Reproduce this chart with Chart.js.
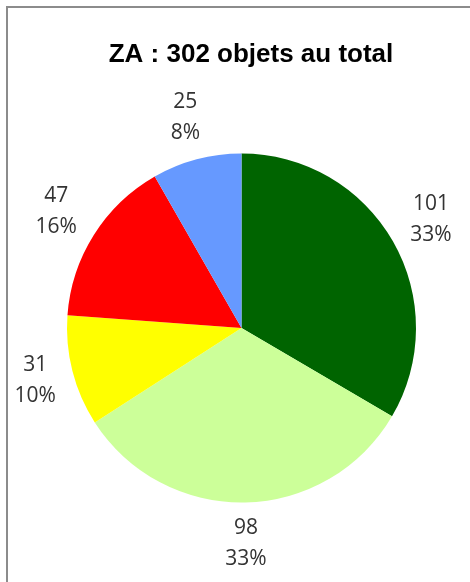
<!DOCTYPE html>
<html lang="fr">
<head>
    <meta charset="UTF-8">
    <title>ZA : 302 objets au total</title>
    <script src="https://cdn.jsdelivr.net/npm/chart.js"></script>
    <style>
        html, body {
            margin: 0;
            padding: 0;
            background: #fff;
            overflow: hidden;
        }
        .frame {
            position: absolute;
            left: 6px;
            top: 6px;
            width: 480px;
            height: 600px;
            border: 2px solid #8c8c8c;
        }
        .chart-box {
            position: absolute;
            left: 0;
            top: 0;
            width: 470px;
            height: 582px;
        }
    </style>
</head>
<body>
    <div class="frame"></div>
    <div class="chart-box"><canvas id="zaChart"></canvas></div>

    <script>
        const titleText = "ZA : 302 objets au total";
        const categories = ["Catégorie 1", "Catégorie 2", "Catégorie 3", "Catégorie 4", "Catégorie 5"];
        const counts = [101, 98, 31, 47, 25];
        const sliceColors = ["#006400", "#ccff99", "#ffff00", "#ff0000", "#6699ff"];

        const total = counts.reduce((a, b) => a + b, 0);

        // whole percents that add up to 100 (largest remainder)
        function roundedPercents(vals) {
            const raw = vals.map(v => v / total * 100);
            const out = raw.map(Math.floor);
            let left = 100 - out.reduce((a, b) => a + b, 0);
            const order = raw.map((r, i) => [r - Math.floor(r), i]).sort((a, b) => b[0] - a[0]);
            for (let k = 0; k < left; k++) out[order[k][1]]++;
            return out;
        }
        const percents = roundedPercents(counts);

        // value + percentage written outside each slice, title drawn above
        const outsideLabels = {
            id: "outsideLabels",
            afterDraw(chart) {
                const ctx = chart.ctx;
                ctx.save();
                ctx.textAlign = "center";
                ctx.textBaseline = "middle";

                ctx.fillStyle = "#000";
                ctx.font = "bold 26px 'Liberation Sans', Arial, sans-serif";
                ctx.fillText(titleText, 251, 55);

                ctx.fillStyle = "#333";
                ctx.font = "21px 'Open Sans', sans-serif";
                const meta = chart.getDatasetMeta(0);
                meta.data.forEach((arc, i) => {
                    const line1 = String(counts[i]);
                    const line2 = percents[i] + "%";
                    const hw = Math.max(ctx.measureText(line1).width, ctx.measureText(line2).width) / 2;
                    const hh = 30;
                    const mid = (arc.startAngle + arc.endAngle) / 2;
                    const c = Math.cos(mid), s = Math.sin(mid);
                    const dist = arc.outerRadius + 11 + Math.abs(c) * hw + Math.abs(s) * hh;
                    const x = arc.x + c * dist;
                    const y = arc.y + s * dist;
                    ctx.fillText(line1, x, y - 15.5);
                    ctx.fillText(line2, x, y + 15.5);
                });
                ctx.restore();
            }
        };

        new Chart(document.getElementById("zaChart"), {
            type: "pie",
            data: {
                labels: categories,
                datasets: [{
                    data: counts,
                    backgroundColor: sliceColors,
                    borderWidth: 0
                }]
            },
            options: {
                responsive: true,
                maintainAspectRatio: false,
                animation: false,
                layout: {
                    padding: { left: 67, right: 54, top: 153.5, bottom: 79.5 }
                },
                plugins: {
                    legend: { display: false },
                    title: { display: false },
                    tooltip: { enabled: false }
                }
            },
            plugins: [outsideLabels]
        });
    </script>
</body>
</html>
